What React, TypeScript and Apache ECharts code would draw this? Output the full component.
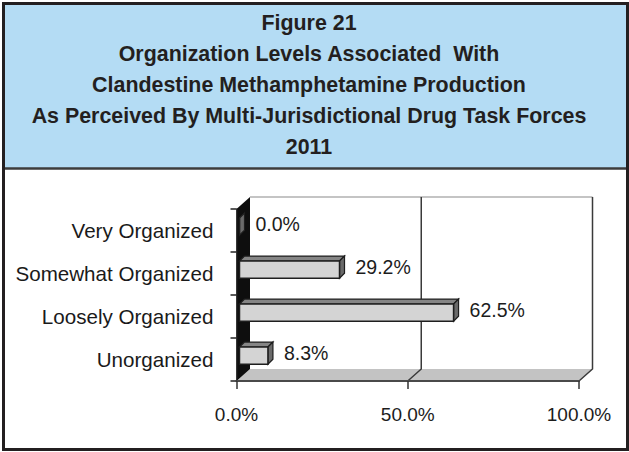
import React, { useEffect, useRef } from "react";
import * as echarts from "echarts";

const TITLE_LINES = [
  "Figure 21",
  "Organization Levels Associated  With",
  "Clandestine Methamphetamine Production",
  "As Perceived By Multi-Jurisdictional Drug Task Forces",
  "2011",
];
const CATEGORIES = ["Very Organized", "Somewhat Organized", "Loosely Organized", "Unorganized"];
const VALUES = [0.0, 29.2, 62.5, 8.3];
const X_TICKS = [0, 50, 100];

const FONT = "'Liberation Sans', Arial, Helvetica, sans-serif";
const DEPTH_X = 13.5;
const DEPTH_Y = -12;

export default function App() {
  const ref = useRef<HTMLDivElement>(null);

  useEffect(() => {
    if (!ref.current) return;
    const chart = echarts.init(ref.current, undefined, { renderer: "svg" });

    const frameItem = (params: any, api: any) => {
      const cs = params.coordSys;
      const gx = cs.x, gy = cs.y, gw = cs.width, gh = cs.height;
      const children: any[] = [];
      // back wall
      children.push({
        type: "polygon",
        shape: { points: [[gx + DEPTH_X, gy + DEPTH_Y], [gx + gw + DEPTH_X, gy + DEPTH_Y], [gx + gw + DEPTH_X, gy + gh + DEPTH_Y], [gx + DEPTH_X, gy + gh + DEPTH_Y]] },
        style: { fill: "#ffffff" },
      });
      // floor
      children.push({
        type: "polygon",
        shape: { points: [[gx, gy + gh], [gx + DEPTH_X, gy + gh + DEPTH_Y], [gx + gw + DEPTH_X, gy + gh + DEPTH_Y], [gx + gw, gy + gh]] },
        style: { fill: "#c3c3c3" },
      });
      // left wall
      children.push({
        type: "polygon",
        shape: { points: [[gx, gy], [gx + DEPTH_X, gy + DEPTH_Y], [gx + DEPTH_X, gy + gh + DEPTH_Y], [gx, gy + gh]] },
        style: { fill: "#0e0e0e" },
      });
      // back wall top edge
      children.push({
        type: "line",
        shape: { x1: gx + DEPTH_X, y1: gy + DEPTH_Y, x2: gx + gw + DEPTH_X, y2: gy + DEPTH_Y },
        style: { stroke: "#b0b0b0", lineWidth: 1.5 },
      });
      // gridlines on back wall and floor
      X_TICKS.slice(1).forEach((t) => {
        const xt = api.coord([t, 0])[0];
        children.push({
          type: "polyline",
          shape: { points: [[xt + DEPTH_X, gy + DEPTH_Y], [xt + DEPTH_X, gy + gh + DEPTH_Y], [xt, gy + gh]] },
          style: { stroke: "#3a3a3a", lineWidth: 1.5, fill: "none" },
        });
      });
      return { type: "group", children };
    };

    const barItem = (params: any, api: any) => {
      const v = api.value(0);
      const i = api.value(1);
      const p0 = api.coord([0, i]);
      const p1 = api.coord([v, i]);
      const h = api.size([0, 1])[1];
      const sx = 3;
      const d = 5;
      const x0 = p0[0] + sx;
      const x1 = p1[0] + sx;
      const top = p0[1] - 0.29 * h;
      const bot = top + 0.4 * h;
      const stroke = "#1e1e1e";
      return {
        type: "group",
        children: [
          {
            type: "polygon",
            shape: { points: [[x0, top], [x0 + d, top - d], [x1 + d, top - d], [x1, top]] },
            style: { fill: "#858585", stroke, lineWidth: 1.2 },
          },
          {
            type: "polygon",
            shape: { points: [[x1, top], [x1 + d, top - d], [x1 + d, bot - d], [x1, bot]] },
            style: { fill: "#6a6a6a", stroke, lineWidth: 1.2 },
          },
          {
            type: "rect",
            shape: { x: x0, y: top, width: Math.max(x1 - x0, 0), height: bot - top },
            style: { fill: "#d4d4d4", stroke, lineWidth: 1.5 },
          },
          {
            type: "text",
            x: x1 + d + 11,
            y: p0[1] - 6.5,
            style: {
              text: v.toFixed(1) + "%",
              fill: "#1c1c1c",
              font: `19.5px ${FONT}`,
              align: "left",
              verticalAlign: "middle",
            },
          },
        ],
      };
    };

    chart.setOption({
      animation: false,
      backgroundColor: "#ffffff",
      graphic: [
        {
          type: "rect",
          z: -10,
          shape: { x: 3, y: 3, width: 624, height: 165 },
          style: { fill: "#b4dcf4" },
        },
        {
          type: "line",
          z: 100,
          shape: { x1: 3, y1: 168.5, x2: 627, y2: 168.5 },
          style: { stroke: "#3c3c3c", lineWidth: 2.5 },
        },
        {
          type: "rect",
          z: 100,
          shape: { x: 3.5, y: 3.5, width: 624, height: 446 },
          style: { fill: "none", stroke: "#231f20", lineWidth: 3 },
        },
        {
          type: "text",
          z: 100,
          x: 309,
          y: 8,
          style: {
            text: TITLE_LINES.join("\n"),
            fill: "#231f20",
            font: `bold 21.4px ${FONT}`,
            align: "center",
            verticalAlign: "top",
            lineHeight: 30.8,
          },
        },
      ],
      grid: {
        left: 236.5,
        right: 50,
        top: 209,
        bottom: 71,
        containLabel: false,
        outerBoundsMode: "none",
      },
      xAxis: {
        type: "value",
        min: 0,
        max: 100,
        interval: 50,
        z: 10,
        axisLine: { show: true, lineStyle: { color: "#4a4a4a", width: 2 } },
        axisTick: { show: true, length: 8, lineStyle: { color: "#333333", width: 1.5 } },
        splitLine: { show: false },
        axisLabel: {
          formatter: (val: number) => val.toFixed(1) + "%",
          fontSize: 19,
          fontFamily: FONT,
          color: "#1c1c1c",
          margin: 24,
        },
      },
      yAxis: {
        type: "category",
        data: CATEGORIES,
        inverse: true,
        z: 10,
        axisLine: { show: true, lineStyle: { color: "#1a1a1a", width: 1.5 } },
        axisTick: { show: true, length: 6, lineStyle: { color: "#222222", width: 1.5 } },
        splitLine: { show: false },
        axisLabel: {
          fontSize: 20.6,
          fontFamily: FONT,
          color: "#1a1a1a",
          margin: 23,
        },
      },
      series: [
        {
          type: "custom",
          z: 1,
          renderItem: frameItem,
          data: [[0, 0]],
          encode: { x: 0, y: 1 },
          silent: true,
        },
        {
          type: "custom",
          z: 3,
          renderItem: barItem,
          data: VALUES.map((v, i) => [v, i]),
          encode: { x: 0, y: 1 },
        },
      ],
    });

    return () => chart.dispose();
  }, []);

  return (
    <div
      ref={ref}
      style={{ position: "fixed", left: 0, top: 0, width: 629, height: 452 }}
    />
  );
}
